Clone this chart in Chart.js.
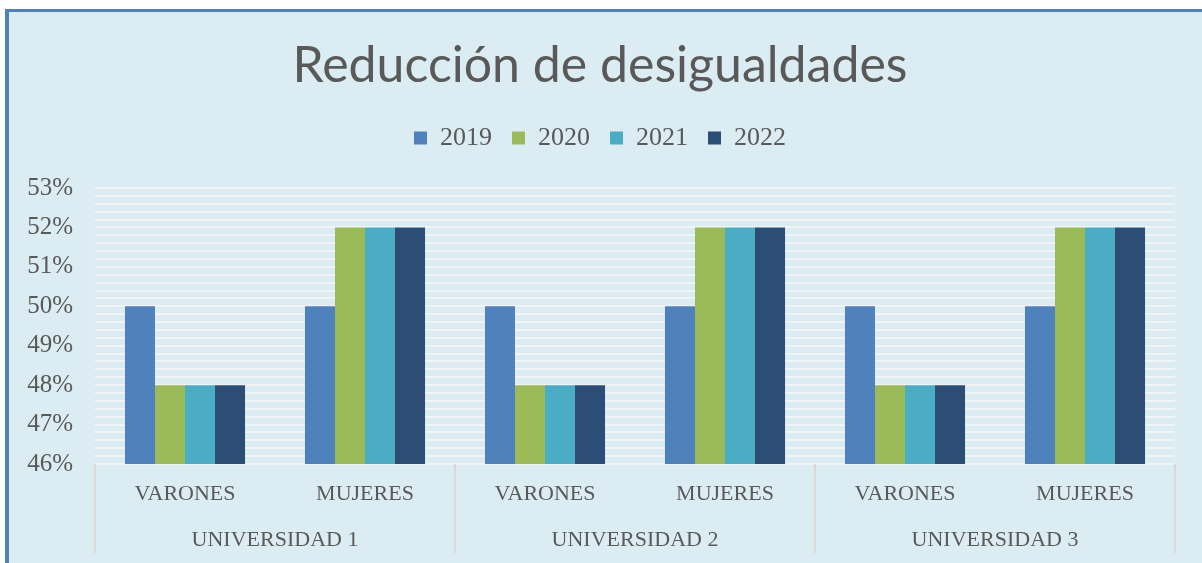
<!DOCTYPE html>
<html>
<head>
<meta charset="utf-8">
<script src="https://cdn.jsdelivr.net/npm/chart.js@4/dist/chart.umd.min.js"></script>
<style>
  body { margin: 0; background: #fff; }
  #wrap { position: relative; width: 1202px; height: 563px; overflow: hidden; }
  #frame {
    position: absolute; left: 5px; top: 9px; width: 1220px; height: 580px;
    background: #dbedf3; border-left: 4px solid #4f81bd; border-top: 3px solid #4f81bd;
  }
  #chart { position: absolute; left: 0; top: 0; }
</style>
</head>
<body>
<div id="wrap">
  <div id="frame"></div>
  <canvas id="chart" width="1202" height="563"></canvas>
</div>
<script>
const categories = ['VARONES', 'MUJERES', 'VARONES', 'MUJERES', 'VARONES', 'MUJERES'];
const groups = ['UNIVERSIDAD 1', 'UNIVERSIDAD 2', 'UNIVERSIDAD 3'];
const seriesLabels = ['2019', '2020', '2021', '2022'];

const values2019 = [0.50, 0.50, 0.50, 0.50, 0.50, 0.50];
const values2020 = [0.48, 0.52, 0.48, 0.52, 0.48, 0.52];
const values2021 = [0.48, 0.52, 0.48, 0.52, 0.48, 0.52];
const values2022 = [0.48, 0.52, 0.48, 0.52, 0.48, 0.52];

const seriesColors = ['#4f81bd', '#9bbb59', '#4bacc6', '#2c4d75'];

const textColor = '#595959';
const serif = "'Liberation Serif', 'Times New Roman', serif";

const allValues = [values2019, values2020, values2021, values2022];
let datasets = [];
seriesLabels.forEach((label, i) => {
  datasets.push({
    label: label,
    data: allValues[i],
    backgroundColor: seriesColors[i],
    borderWidth: 0,
    categoryPercentage: 0.667,
    barPercentage: 1.0
  });
});

// taller legend block (space under the legend row)
const legendSpace = {
  id: 'legendSpace',
  beforeInit(chart) {
    const fit = chart.legend.fit;
    chart.legend.fit = function () {
      fit.bind(chart.legend)();
      this.height += 27;
    };
  }
};

// vertical separators between the university groups
const groupLines = {
  id: 'groupLines',
  afterDraw(chart) {
    const x2 = chart.scales.x2;
    const ctx = chart.ctx;
    const step = x2.width / groups.length;
    ctx.save();
    ctx.strokeStyle = '#d9d9d9';
    ctx.lineWidth = 2;
    for (let i = 0; i <= groups.length; i++) {
      const px = Math.round(x2.left + i * step);
      ctx.beginPath();
      ctx.moveTo(px, chart.chartArea.bottom);
      ctx.lineTo(px, x2.bottom);
      ctx.stroke();
    }
    ctx.restore();
  }
};

const ctx = document.getElementById('chart').getContext('2d');
const chart = new Chart(ctx, {
  type: 'bar',
  data: {
    labels: categories,
    datasets: datasets
  },
  plugins: [legendSpace, groupLines],
  options: {
    responsive: false,
    animation: false,
    layout: {
      padding: { top: 18, left: 25, right: 27, bottom: 10 }
    },
    plugins: {
      title: {
        display: true,
        text: 'Reducción de desigualdades',
        color: textColor,
        font: { family: "Lato, 'Open Sans', sans-serif", size: 50, weight: 'normal' },
        padding: { top: 18, bottom: 9 }
      },
      legend: {
        position: 'top',
        labels: {
          color: textColor,
          boxWidth: 13,
          boxHeight: 13,
          padding: 20,
          font: { family: serif, size: 26 }
        }
      },
      tooltip: { enabled: false }
    },
    scales: {
      x: {
        position: 'bottom',
        grid: { display: false, tickLength: 0 },
        border: { display: false },
        ticks: { color: textColor, font: { family: serif, size: 22 }, padding: 17 },
        afterFit: (s) => { s.height = 58; }
      },
      x2: {
        type: 'category',
        labels: groups,
        position: 'bottom',
        offset: true,
        grid: { display: false, tickLength: 0 },
        border: { display: false },
        ticks: { color: textColor, font: { family: serif, size: 22 }, padding: 5 },
        afterFit: (s) => { s.height = 31; }
      },
      y: {
        min: 0.46,
        max: 0.53,
        grid: { color: '#d6d9db', lineWidth: 2, drawTicks: false },
        border: { display: false },
        ticks: {
          stepSize: 0.01,
          color: textColor,
          padding: 22,
          font: { family: serif, size: 25 },
          callback: (v) => Math.round(v * 100) + '%'
        },
        afterFit: (s) => { s.width = 70; }
      },
      yMinor: {
        position: 'right',
        min: 0.46,
        max: 0.53,
        grid: { color: '#f1f4f5', lineWidth: 2, drawTicks: false },
        border: { display: false },
        ticks: { display: false, stepSize: 0.002 },
        afterFit: (s) => { s.width = 0; }
      }
    }
  }
});
</script>
</body>
</html>
